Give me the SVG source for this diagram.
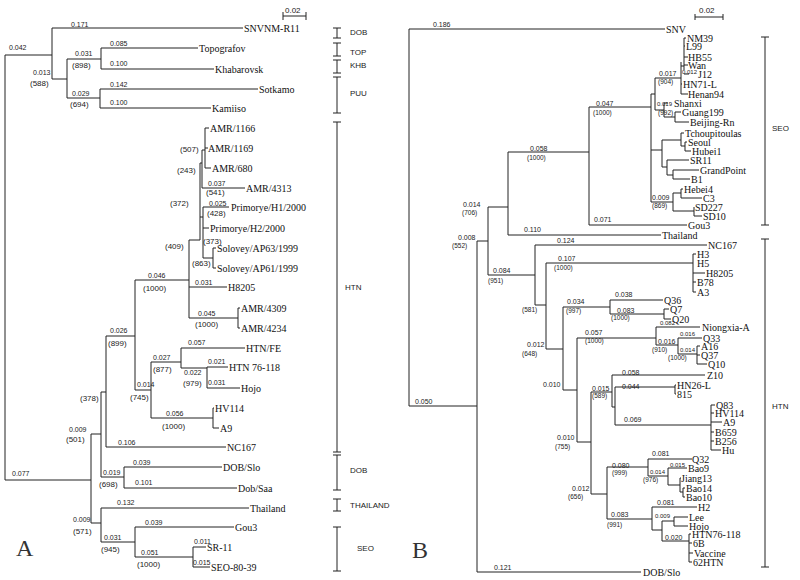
<svg xmlns="http://www.w3.org/2000/svg" width="800" height="580" viewBox="0 0 800 580">
<style>
.br{fill:none;stroke:#222;stroke-width:1}
.lf{font-family:"Liberation Serif",serif;font-size:10px;fill:#111}
.rf{font-family:"Liberation Serif",serif;font-size:10px;fill:#111}
.bl{font-family:"Liberation Sans",sans-serif;font-size:7px;fill:#222}
.bs{font-family:"Liberation Sans",sans-serif;font-size:8px;fill:#222}
.rs{font-family:"Liberation Sans",sans-serif;font-size:6.5px;fill:#222}
.rt{font-family:"Liberation Sans",sans-serif;font-size:6px;fill:#222}
.cl{font-family:"Liberation Sans",sans-serif;font-size:8px;fill:#222}
.big{font-family:"Liberation Serif",serif;font-size:24px;fill:#333}
</style>
<rect width="800" height="580" fill="#fff"/>
<g id="connectors">
<path class="br" d="M5,55V480M5,55H52M5,480H91
M52,28V79M52,28H243M52,79H67
M67,59V98M67,59H101M67,98H100
M101,48V69M101,48H198M101,69H214
M100,89V108M100,89H258M100,108H211
M91,434V523M91,434H101M91,523H101
M101,392V477M101,392H106M101,477H124
M106,336V447M106,336H135M106,447H226
M124,467V488M124,467H222M124,488H237
M101,508V542M101,508H249M101,542H135
M135,527V557M135,527H234M135,557H193
M193,547V567M193,547H206M193,567H210
M135,280V390M135,280H189M135,390H151
M151,362V418M151,362H181M151,418H213
M181,348V368M181,348H245M181,368H207
M207,367V388M207,367H228M207,388H240
M213,408V428M213,408H214M213,428H219
M189,240V318M189,240H200M189,287H227M189,318H238
M238,308V328M238,308H240M238,328H240
M200,163V240M200,163H202M200,217H203
M202,150V188M202,150H205M202,188H245
M205,128V168M205,128H209M205,148H208M205,168H211
M203,207V258M203,207H229M203,228H209M203,258H213
M213,248V268M213,248H216M213,268H216"/>
<path class="br" d="M409,29V406M409,29H665M409,406H477
M477,241V572M477,241H488M477,572H641
M488,207V275M488,207H508M488,275H535
M508,152V235M508,152H589M508,235H661
M589,107V225M589,107H651M589,225H687
M651,94V202M651,94H655M651,150H662M651,202H673
M655,78V110M655,78H681M655,110H664
M684,38V70M681,62V94M681,66H684M684,38H686M684,46H685M684,57H688M684,65H688M684,74H689M681,84H682M681,94H688
M664,103V117M664,103H668M664,117H675M675,112V122M675,112H681M675,122H689
M662,140V167M662,140H681M662,167H667
M681,133V146M681,133H684M681,146H685M685,142V151M685,142H687M685,151H691
M667,160V175M667,160H689M667,175H673M673,170V179M673,170H699M673,179H690
M673,193V211M673,193H681M673,211H694M681,189V198M681,189H683M681,198H702M694,207V216M694,216H702
M535,245V305M535,245H707M535,305H546
M546,263V349M546,263H693M546,349H563
M693,254V292M693,254H696M693,273H705M693,282H696M693,292H696
M563,307V390M563,307H610M563,390H577
M610,300V314M610,300H663M610,314H664M664,309V319M664,309H669M664,319H671
M577,338V442M577,338H656M577,442H591
M656,327V345M656,327H700M656,345H678
M678,338V354M678,338H702M678,354H697
M697,346V364M697,346H700M697,355H700M697,364H707
M591,392V494M591,392H612M591,494H607
M612,375V407M612,375H705M612,407H615
M615,387V425M615,387H675M615,425H711
M675,385V394M675,385H676M675,394H676
M711,405V450M711,405H715M711,413H714M711,422H722M711,432H714M711,441H714M711,450H721
M607,467V519M607,467H648M607,519H652
M648,459V476M648,459H692M648,476H668
M668,468V485M668,468H687M668,485H680
M680,478V492M680,478H681M680,492H683M683,488V497M683,488H685M683,497H685
M652,507V530M652,507H697M652,530H662
M662,521V541M662,521H674M662,541H689
M674,517V526M674,517H688M674,526H688
M689,534V562M689,534H691M689,543H692M689,553H693M689,562H692"/>
</g>
<g id="scale-bars">
<path class="br" d="M283,16H306M283,12V20M306,12V20M695,17H723M695,14V20M723,14V20"/>
<text class="bs" x="285" y="13">0.02</text>
<text class="bs" x="699" y="13">0.02</text>
</g>
<g id="clade-brackets">
<path class="br" d="M333,28H341M337,28V38M333,38H341
M333,43H341M337,43V56M333,56H341
M333,60H341M337,60V73M333,73H341
M333,77H341M337,77V113M333,113H341
M333,122H341M337,122V452M333,452H341
M333,455H341M337,455V490M333,490H341
M333,499H341M337,499V511M333,511H341
M333,527H341M337,527V571M333,571H341
M761,37H769M765,37V225M761,225H769
M761,239H769M765,239V567M761,567H769"/>
<text class="cl" x="350" y="35">DOB</text>
<text class="cl" x="350" y="55">TOP</text>
<text class="cl" x="350" y="68">KHB</text>
<text class="cl" x="350" y="96">PUU</text>
<text class="cl" x="345" y="290">HTN</text>
<text class="cl" x="350" y="473">DOB</text>
<text class="cl" x="350" y="508">THAILAND</text>
<text class="cl" x="357" y="551">SEO</text>
<text class="cl" x="772" y="131">SEO</text>
<text class="cl" x="772" y="409">HTN</text>
</g>
<g id="panel-labels">
<text class="big" x="16" y="556">A</text>
<text class="big" x="412" y="558">B</text>
</g>
<g id="branch-labels">
<text class="bl" x="71" y="27">0.171</text>
<text class="bl" x="9" y="50">0.042</text>
<text class="bl" x="110" y="46">0.085</text>
<text class="bl" x="75" y="56">0.031</text>
<text class="bs" x="72" y="67.5">(898)</text>
<text class="bl" x="110" y="66">0.100</text>
<text class="bl" x="33" y="74.5">0.013</text>
<text class="bs" x="30" y="85.5">(588)</text>
<text class="bl" x="110" y="86.5">0.142</text>
<text class="bl" x="72" y="95.5">0.029</text>
<text class="bs" x="70" y="106.5">(694)</text>
<text class="bl" x="110" y="104.5">0.100</text>
<text class="bs" x="180" y="151.5">(507)</text>
<text class="bs" x="177" y="172.5">(243)</text>
<text class="bl" x="208" y="185.5">0.037</text>
<text class="bs" x="206" y="194.5">(541)</text>
<text class="bs" x="170" y="205.5">(372)</text>
<text class="bl" x="209" y="205.5">0.025</text>
<text class="bs" x="207" y="215.5">(428)</text>
<text class="bs" x="203" y="243.5">(373)</text>
<text class="bs" x="165" y="248.5">(409)</text>
<text class="bs" x="192" y="265.5">(863)</text>
<text class="bl" x="148" y="277.5">0.046</text>
<text class="bs" x="143" y="290.5">(1000)</text>
<text class="bl" x="195" y="284.5">0.031</text>
<text class="bl" x="198" y="315.5">0.045</text>
<text class="bs" x="195" y="326.5">(1000)</text>
<text class="bl" x="110" y="332.5">0.026</text>
<text class="bs" x="108" y="345.5">(899)</text>
<text class="bl" x="188" y="344.5">0.057</text>
<text class="bl" x="153" y="359.5">0.027</text>
<text class="bs" x="153" y="371.5">(877)</text>
<text class="bl" x="208" y="363.5">0.021</text>
<text class="bl" x="184" y="374.5">0.022</text>
<text class="bs" x="183" y="385.5">(979)</text>
<text class="bl" x="208" y="384.5">0.031</text>
<text class="bl" x="137" y="386.5">0.014</text>
<text class="bs" x="130" y="399.5">(745)</text>
<text class="bs" x="80" y="400.5">(378)</text>
<text class="bl" x="166" y="415.5">0.056</text>
<text class="bs" x="162" y="428.5">(1000)</text>
<text class="bl" x="69" y="431.5">0.009</text>
<text class="bs" x="66" y="441.5">(501)</text>
<text class="bl" x="118" y="444.5">0.106</text>
<text class="bl" x="133" y="464.5">0.039</text>
<text class="bl" x="103" y="474.5">0.019</text>
<text class="bs" x="99" y="486.5">(698)</text>
<text class="bl" x="135" y="484.5">0.101</text>
<text class="bl" x="12" y="475.5">0.077</text>
<text class="bl" x="117" y="504.5">0.132</text>
<text class="bl" x="73" y="521.5">0.009</text>
<text class="bs" x="73" y="533.5">(571)</text>
<text class="bl" x="145" y="524.5">0.039</text>
<text class="bl" x="104" y="539.5">0.031</text>
<text class="bs" x="101" y="551.5">(945)</text>
<text class="bl" x="194" y="543.5">0.011</text>
<text class="bl" x="141" y="554.5">0.051</text>
<text class="bs" x="137" y="566.5">(1000)</text>
<text class="bl" x="193" y="564.5">0.015</text>
<text class="bl" x="433" y="26.5">0.186</text>
<text class="bl" x="659" y="75.5">0.017</text>
<text class="rs" x="658" y="84">(904)</text>
<text class="rt" x="682" y="74">0.012</text>
<text class="rt" x="657" y="106">0.019</text>
<text class="rs" x="658" y="115">(992)</text>
<text class="bl" x="596" y="105.5">0.047</text>
<text class="rs" x="593" y="115">(1000)</text>
<text class="bl" x="530" y="150.5">0.058</text>
<text class="rs" x="527" y="160">(1000)</text>
<text class="bl" x="652" y="199.5">0.009</text>
<text class="rs" x="652" y="208">(869)</text>
<text class="bl" x="463" y="206.5">0.014</text>
<text class="rs" x="462" y="215">(706)</text>
<text class="bl" x="594" y="221.5">0.071</text>
<text class="bl" x="524" y="231.5">0.110</text>
<text class="bl" x="458" y="239.5">0.008</text>
<text class="rs" x="452" y="248">(552)</text>
<text class="bl" x="557" y="242.5">0.124</text>
<text class="bl" x="558" y="260.5">0.107</text>
<text class="rs" x="554" y="270">(1000)</text>
<text class="bl" x="493" y="272.5">0.084</text>
<text class="rs" x="488" y="283">(951)</text>
<text class="bl" x="615" y="296.5">0.038</text>
<text class="bl" x="567" y="303.5">0.034</text>
<text class="rs" x="566" y="313">(997)</text>
<text class="rs" x="522" y="312">(581)</text>
<text class="bl" x="617" y="312.5">0.083</text>
<text class="rs" x="611" y="320">(1000)</text>
<text class="rt" x="660" y="325">0.082</text>
<text class="bl" x="585" y="334.5">0.057</text>
<text class="rs" x="585" y="343">(1000)</text>
<text class="rt" x="680" y="336">0.016</text>
<text class="bl" x="658" y="343.5">0.016</text>
<text class="rs" x="652" y="352">(910)</text>
<text class="rt" x="680" y="352">0.014</text>
<text class="rs" x="668" y="360">(1000)</text>
<text class="bl" x="527" y="346.5">0.012</text>
<text class="rs" x="522" y="356">(648)</text>
<text class="bl" x="622" y="374.5">0.058</text>
<text class="bl" x="543" y="386.5">0.010</text>
<text class="bl" x="622" y="388.5">0.044</text>
<text class="bl" x="592" y="390.5">0.015</text>
<text class="rs" x="592" y="398">(589)</text>
<text class="bl" x="624" y="421.5">0.069</text>
<text class="bl" x="557" y="439.5">0.010</text>
<text class="rs" x="555" y="449">(755)</text>
<text class="bl" x="652" y="455.5">0.081</text>
<text class="bl" x="612" y="467.5">0.080</text>
<text class="rs" x="612" y="475">(999)</text>
<text class="rt" x="670" y="467">0.015</text>
<text class="rt" x="650" y="474">0.014</text>
<text class="rs" x="643" y="482">(976)</text>
<text class="bl" x="572" y="490.5">0.012</text>
<text class="rs" x="568" y="499">(656)</text>
<text class="bl" x="657" y="504.5">0.081</text>
<text class="bl" x="611" y="516.5">0.083</text>
<text class="rs" x="607" y="527">(991)</text>
<text class="rt" x="655" y="518">0.009</text>
<text class="bl" x="665" y="539.5">0.020</text>
<text class="bl" x="494" y="569.5">0.121</text>
<text class="bl" x="415" y="403.5">0.050</text>
</g>
<g id="leaf-A-SNVNM-R11"><text class="lf" x="244" y="31.5">SNVNM-R11</text></g>
<g id="leaf-A-Topografov"><text class="lf" x="199" y="51.5">Topografov</text></g>
<g id="leaf-A-Khabarovsk"><text class="lf" x="215" y="72.5">Khabarovsk</text></g>
<g id="leaf-A-Sotkamo"><text class="lf" x="259" y="92.5">Sotkamo</text></g>
<g id="leaf-A-Kamiiso"><text class="lf" x="212" y="111.5">Kamiiso</text></g>
<g id="leaf-A-AMR1166"><text class="lf" x="210" y="131.5">AMR/1166</text></g>
<g id="leaf-A-AMR1169"><text class="lf" x="208" y="151.5">AMR/1169</text></g>
<g id="leaf-A-AMR680"><text class="lf" x="212" y="171.5">AMR/680</text></g>
<g id="leaf-A-AMR4313"><text class="lf" x="246" y="191.5">AMR/4313</text></g>
<g id="leaf-A-PrimoryeH1"><text class="lf" x="231" y="210.5">Primorye/H1/2000</text></g>
<g id="leaf-A-PrimoryeH2"><text class="lf" x="210" y="231.5">Primorye/H2/2000</text></g>
<g id="leaf-A-SoloveyAP63"><text class="lf" x="217" y="251.5">Solovey/AP63/1999</text></g>
<g id="leaf-A-SoloveyAP61"><text class="lf" x="217" y="271.5">Solovey/AP61/1999</text></g>
<g id="leaf-A-H8205"><text class="lf" x="228" y="290.5">H8205</text></g>
<g id="leaf-A-AMR4309"><text class="lf" x="241" y="311.5">AMR/4309</text></g>
<g id="leaf-A-AMR4234"><text class="lf" x="241" y="331.5">AMR/4234</text></g>
<g id="leaf-A-HTNFE"><text class="lf" x="246" y="351.5">HTN/FE</text></g>
<g id="leaf-A-HTN76-118"><text class="lf" x="229" y="370.5">HTN  76-118</text></g>
<g id="leaf-A-Hojo"><text class="lf" x="241" y="391.5">Hojo</text></g>
<g id="leaf-A-HV114"><text class="lf" x="215" y="411.5">HV114</text></g>
<g id="leaf-A-A9"><text class="lf" x="220" y="431.5">A9</text></g>
<g id="leaf-A-NC167"><text class="lf" x="227" y="450.5">NC167</text></g>
<g id="leaf-A-DOBSlo"><text class="lf" x="223" y="470.5">DOB/Slo</text></g>
<g id="leaf-A-DobSaa"><text class="lf" x="238" y="491.5">Dob/Saa</text></g>
<g id="leaf-A-Thailand"><text class="lf" x="250" y="511.5">Thailand</text></g>
<g id="leaf-A-Gou3"><text class="lf" x="235" y="530.5">Gou3</text></g>
<g id="leaf-A-SR-11"><text class="lf" x="207" y="550.5">SR-11</text></g>
<g id="leaf-A-SEO-80-39"><text class="lf" x="211" y="570.5">SEO-80-39</text></g>
<g id="leaf-B-SNV"><text class="rf" x="666" y="32.5">SNV</text></g>
<g id="leaf-B-NM39"><text class="rf" x="687" y="41.5">NM39</text></g>
<g id="leaf-B-L99"><text class="rf" x="686" y="49.5">L99</text></g>
<g id="leaf-B-HB55"><text class="rf" x="688" y="60.5">HB55</text></g>
<g id="leaf-B-Wan"><text class="rf" x="688" y="68.5">Wan</text></g>
<g id="leaf-B-J12"><text class="rf" x="698" y="77.5">J12</text></g>
<g id="leaf-B-HN71-L"><text class="rf" x="683" y="87.5">HN71-L</text></g>
<g id="leaf-B-Henan94"><text class="rf" x="688" y="97.5">Henan94</text></g>
<g id="leaf-B-Shanxi"><text class="rf" x="674" y="106.5">Shanxi</text></g>
<g id="leaf-B-Guang199"><text class="rf" x="682" y="115.5">Guang199</text></g>
<g id="leaf-B-Beijing-Rn"><text class="rf" x="690" y="125.5">Beijing-Rn</text></g>
<g id="leaf-B-Tchoupitoulas"><text class="rf" x="685" y="136.5">Tchoupitoulas</text></g>
<g id="leaf-B-Seoul"><text class="rf" x="688" y="145.5">Seoul</text></g>
<g id="leaf-B-Hubei1"><text class="rf" x="692" y="154.5">Hubei1</text></g>
<g id="leaf-B-SR11"><text class="rf" x="690" y="163.5">SR11</text></g>
<g id="leaf-B-GrandPoint"><text class="rf" x="700" y="173.5">GrandPoint</text></g>
<g id="leaf-B-B1"><text class="rf" x="691" y="182.5">B1</text></g>
<g id="leaf-B-Hebei4"><text class="rf" x="684" y="192.5">Hebei4</text></g>
<g id="leaf-B-C3"><text class="rf" x="703" y="201.5">C3</text></g>
<g id="leaf-B-SD227"><text class="rf" x="695" y="210.5">SD227</text></g>
<g id="leaf-B-SD10"><text class="rf" x="703" y="219.5">SD10</text></g>
<g id="leaf-B-Gou3"><text class="rf" x="688" y="228.5">Gou3</text></g>
<g id="leaf-B-Thailand"><text class="rf" x="662" y="238.5">Thailand</text></g>
<g id="leaf-B-NC167"><text class="rf" x="708" y="248.5">NC167</text></g>
<g id="leaf-B-H3"><text class="rf" x="697" y="257.5">H3</text></g>
<g id="leaf-B-H5"><text class="rf" x="697" y="266.5">H5</text></g>
<g id="leaf-B-H8205"><text class="rf" x="706" y="276.5">H8205</text></g>
<g id="leaf-B-B78"><text class="rf" x="697" y="285.5">B78</text></g>
<g id="leaf-B-A3"><text class="rf" x="697" y="295.5">A3</text></g>
<g id="leaf-B-Q36"><text class="rf" x="664" y="303.5">Q36</text></g>
<g id="leaf-B-Q7"><text class="rf" x="670" y="312.5">Q7</text></g>
<g id="leaf-B-Q20"><text class="rf" x="672" y="322.5">Q20</text></g>
<g id="leaf-B-Niongxia-A"><text class="rf" x="702" y="330.5">Niongxia-A</text></g>
<g id="leaf-B-Q33"><text class="rf" x="703" y="341.5">Q33</text></g>
<g id="leaf-B-A16"><text class="rf" x="701" y="349.5">A16</text></g>
<g id="leaf-B-Q37"><text class="rf" x="701" y="358.5">Q37</text></g>
<g id="leaf-B-Q10"><text class="rf" x="708" y="367.5">Q10</text></g>
<g id="leaf-B-Z10"><text class="rf" x="707" y="378.5">Z10</text></g>
<g id="leaf-B-HN26-L"><text class="rf" x="677" y="388.5">HN26-L</text></g>
<g id="leaf-B-815"><text class="rf" x="677" y="397.5">815</text></g>
<g id="leaf-B-Q83"><text class="rf" x="716" y="408.5">Q83</text></g>
<g id="leaf-B-HV114"><text class="rf" x="715" y="416.5">HV114</text></g>
<g id="leaf-B-A9"><text class="rf" x="723" y="425.5">A9</text></g>
<g id="leaf-B-B659"><text class="rf" x="715" y="435.5">B659</text></g>
<g id="leaf-B-B256"><text class="rf" x="715" y="444.5">B256</text></g>
<g id="leaf-B-Hu"><text class="rf" x="722" y="453.5">Hu</text></g>
<g id="leaf-B-Q32"><text class="rf" x="692" y="462.5">Q32</text></g>
<g id="leaf-B-Bao9"><text class="rf" x="688" y="471.5">Bao9</text></g>
<g id="leaf-B-Jiang13"><text class="rf" x="681" y="481.5">Jiang13</text></g>
<g id="leaf-B-Bao14"><text class="rf" x="686" y="491.5">Bao14</text></g>
<g id="leaf-B-Bao10"><text class="rf" x="686" y="500.5">Bao10</text></g>
<g id="leaf-B-H2"><text class="rf" x="698" y="510.5">H2</text></g>
<g id="leaf-B-Lee"><text class="rf" x="689" y="520.5">Lee</text></g>
<g id="leaf-B-Hojo"><text class="rf" x="689" y="529.5">Hojo</text></g>
<g id="leaf-B-HTN76-118"><text class="rf" x="692" y="537.5">HTN76-118</text></g>
<g id="leaf-B-6B"><text class="rf" x="693" y="546.5">6B</text></g>
<g id="leaf-B-Vaccine"><text class="rf" x="694" y="556.5">Vaccine</text></g>
<g id="leaf-B-62HTN"><text class="rf" x="693" y="565.5">62HTN</text></g>
<g id="leaf-B-DOBSlo"><text class="rf" x="643" y="575.5">DOB/Slo</text></g>
</svg>
